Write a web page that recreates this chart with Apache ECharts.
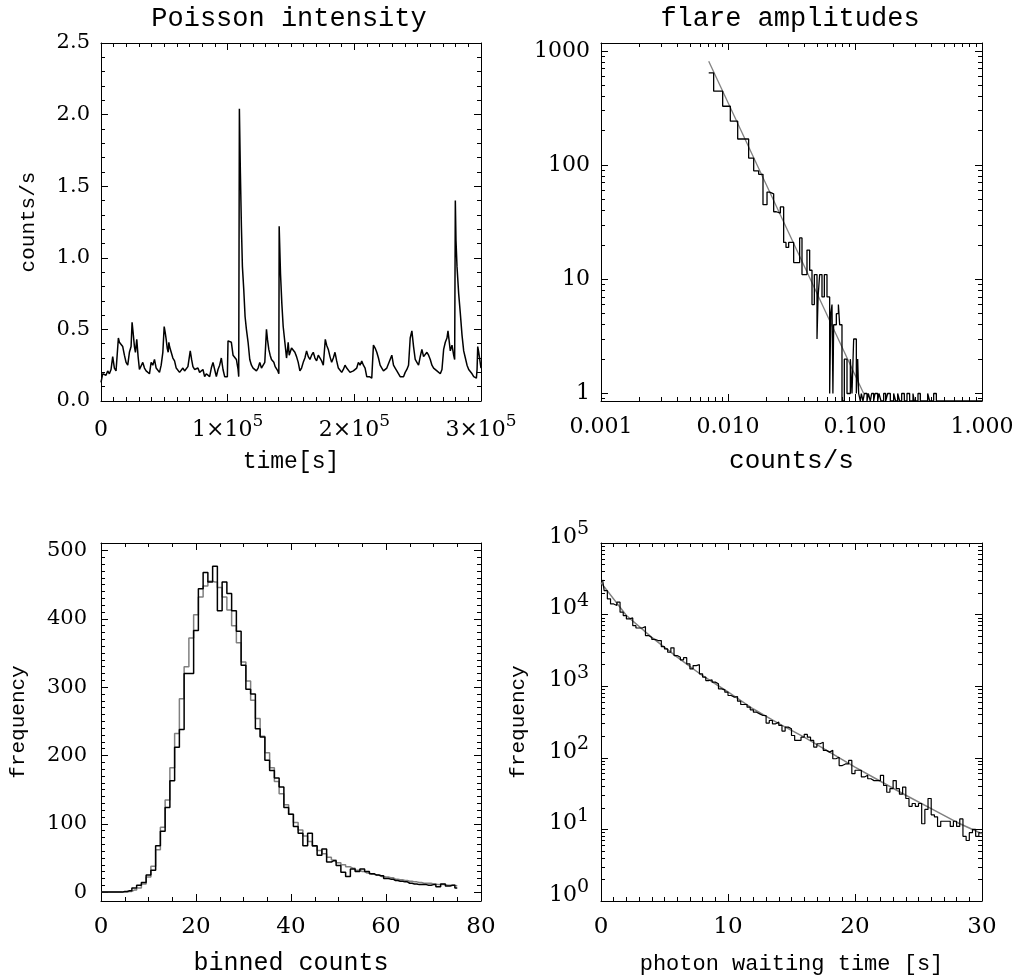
<!DOCTYPE html>
<html><head><meta charset="utf-8">
<script src="https://cdn.jsdelivr.net/npm/echarts@6/dist/echarts.min.js"></script>
<style>html,body{margin:0;padding:0;background:#fff}#c{width:1020px;height:980px}</style>
</head><body><div id="c"></div>
<script>
// ---------------- DATA ----------------
// Panel 1: Poisson intensity light curve
const timeSec = [0,1320,2640,3960,5280,6600,7920,9240,10560,11880,13200,13720,14510,15830,17150,18470,19790,21110,22430,23750,24540,25330,26390,27180,28240,29290,30350,31670,32990,34310,35630,36950,38270,39580,40900,42220,43540,44860,46180,47500,48820,49880,50670,51460,52250,53040,53570,54100,55420,56740,58060,59380,60700,62020,63340,64660,65980,67290,68610,70460,71520,72570,73890,75210,76530,77850,79170,80490,81810,83130,84450,85770,87090,88410,89730,91050,92370,93680,95000,96320,97640,98960,99750,100280,101600,102920,104240,105560,106880,108200,108730,109250,110050,110840,111630,112690,113740,114800,116120,117440,118760,120070,121390,122710,124030,125350,126670,127990,129310,130630,131420,132480,133530,134590,135640,136440,137490,138550,139600,140390,140660,141710,142770,143830,145150,146460,147260,147780,148580,149100,150420,151740,153060,154380,155700,157020,158340,159660,160980,162300,163620,164940,166260,167580,168900,170220,171540,172850,174170,175490,176290,177080,178130,179450,180770,182090,183410,184730,186050,187370,188690,190010,191330,192650,193970,195290,196610,197930,199240,200560,201880,203200,204520,205840,207160,208480,209800,211910,213760,214550,215080,216400,217720,219040,220360,221680,223000,224320,225630,226950,228270,229590,230910,232230,233550,234870,236190,237510,238830,240150,241470,242790,244110,245430,246750,248070,249390,250710,252020,253340,254660,255980,257300,258620,259940,261260,262580,263900,265220,266540,267860,269180,270500,271820,273140,273930,274980,275780,277100,278410,279210,279730,280260,281050,282370,283690,285010,286330,287650,288970,290290,291610,292930,294250,295570,296360,296890,297420,298210,299000,300000];
const rateCps = [0.13,0.19,0.20,0.18,0.21,0.19,0.22,0.31,0.23,0.21,0.22,0.44,0.41,0.42,0.38,0.32,0.27,0.25,0.34,0.38,0.55,0.48,0.38,0.34,0.43,0.31,0.22,0.23,0.27,0.23,0.21,0.22,0.19,0.27,0.25,0.29,0.23,0.22,0.20,0.25,0.34,0.52,0.48,0.43,0.37,0.34,0.41,0.38,0.34,0.30,0.28,0.23,0.22,0.20,0.21,0.23,0.21,0.20,0.24,0.35,0.29,0.24,0.22,0.21,0.23,0.20,0.20,0.22,0.17,0.19,0.20,0.17,0.23,0.27,0.22,0.17,0.22,0.25,0.30,0.22,0.17,0.16,0.17,0.42,0.41,0.41,0.32,0.31,0.29,0.22,0.17,2.04,1.59,1.22,0.94,0.78,0.59,0.50,0.41,0.29,0.25,0.23,0.22,0.21,0.23,0.27,0.23,0.22,0.27,0.50,0.43,0.36,0.32,0.29,0.28,0.27,0.24,0.23,0.21,0.19,1.22,0.89,0.68,0.52,0.41,0.30,0.36,0.41,0.32,0.31,0.37,0.38,0.34,0.31,0.27,0.21,0.23,0.27,0.30,0.35,0.31,0.29,0.32,0.34,0.30,0.28,0.32,0.31,0.28,0.25,0.34,0.43,0.39,0.36,0.31,0.27,0.30,0.34,0.28,0.23,0.22,0.20,0.22,0.25,0.23,0.22,0.20,0.19,0.21,0.20,0.23,0.27,0.25,0.28,0.25,0.23,0.17,0.17,0.16,0.17,0.39,0.37,0.34,0.30,0.25,0.23,0.21,0.22,0.23,0.24,0.29,0.32,0.25,0.23,0.21,0.20,0.17,0.16,0.17,0.20,0.22,0.25,0.44,0.49,0.38,0.29,0.27,0.25,0.31,0.36,0.31,0.30,0.34,0.32,0.29,0.25,0.23,0.22,0.21,0.20,0.19,0.22,0.36,0.41,0.44,0.49,0.41,0.35,0.39,0.32,0.29,1.40,1.12,0.94,0.75,0.61,0.46,0.35,0.30,0.25,0.22,0.21,0.19,0.17,0.16,0.16,0.22,0.38,0.34,0.29,0.23];

// Panel 2: flare amplitude histogram (bin left edges, last entry = final right edge)
const ampEdges = [0.00705,0.00771,0.00908,0.01043,0.01192,0.01454,0.01593,0.01744,0.01886,0.02029,0.02129,0.02289,0.02402,0.02583,0.02743,0.02862,0.03003,0.03289,0.03666,0.03825,0.04188,0.04395,0.04586,0.04785,0.05021,0.05120,0.05269,0.05497,0.05735,0.06018,0.06317,0.06450,0.06590,0.06700,0.06792,0.07129,0.07400,0.07572,0.07898,0.08241,0.08650,0.09190,0.09471,0.09761,0.10245,0.10500,0.10688,0.11015,0.11217,0.11561,0.11844,0.12432,0.12735,0.13203,0.13526,0.14028,0.14371,0.15082,0.15451,0.16020,0.16814,0.17437,0.18078,0.18972,0.20155,0.20897,0.21677,0.22473,0.23306,0.24458,0.25663,0.26932,0.28613,0.29313,0.31332,0.32683,0.37346,0.38720,0.41639,0.43704,1.0];
const ampCounts = [641,443,327,242,169,115,89,83,45,58,56,39,38,43,21,19,21,14,23,11,18,12,6,11,3,7,11,7,11,7,1,5,6,1,4,5,6,4,0,2,1,2,1,3,1,2,1,0,1,0,1,0,1,0,1,0,1,0,1,0,1,0,1,0,1,0,1,0,1,0,1,0,1,0,1,0,1,0,1,0];
const ampFitX = [0.00705, 0.117];
const ampFitY = [811, 1];

// Panel 3: binned counts histogram
const cntBins = [0,1,2,3,4,5,6,7,8,9,10,11,12,13,14,15,16,17,18,19,20,21,22,23,24,25,26,27,28,29,30,31,32,33,34,35,36,37,38,39,40,41,42,43,44,45,46,47,48,49,50,51,52,53,54,55,56,57,58,59,60,61,62,63,64,65,66,67,68,69,70,71,72,73,74,75];
const cntObserved = [0,0,0,0,0,1,2,6,10,14,25,32,68,89,124,163,212,238,320,320,383,444,468,454,477,412,454,437,412,382,332,297,290,239,227,193,178,167,154,124,114,96,86,68,86,68,54,63,44,46,39,29,23,34,30,34,30,27,25,24,20,19,17,16,15,13,12,11,11,10,11,8,12,9,10,6];
const cntModel = [0,0,0,0,0,0,1,3,6,12,22,38,62,95,135,182,232,283,330,372,406,432,448,455,454,446,432,413,390,365,337,309,281,254,228,204,182,162,144,128,114,102,91,82,74,67,61,56,51,47,43,40,37,35,32,30,28,26,25,23,22,21,19,18,17,16,15,14,13,13,12,11,11,10,10,9];

// Panel 4: photon waiting time histogram (bin width 0.25 s)
const waitBinWidth = 0.25;
const waitCounts = [30500,21600,16600,14100,13400,14900,10800,9700,8700,9000,
 7000,6500,6500,6800,5100,4800,4500,4340,4340,3570,
 3320,2980,3430,2680,2540,2330,2500,2050,1750,1940,
 2000,1490,1340,1200,1225,1140,1080,918,889,825,
 741,703,718,618,555,555,509,468,434,411,
 390,390,305,332,298,315,283,236,268,254,
 205,175,175,194,212,194,175,141,157,165,
 127,120,127,97,102,78,82,82,92,60,
 67,67,54,57,51,48,48,48,57,41,
 33,37,48,37,31,39,27,21,23,21,
 23,12,19,27,16,15,11,13,13,13,
 11,13,11,14,8,7,9,10,8,9];
const waitModelT = [0,2,4,6,8,10,12,14,16,18,20,22,24,26,28,30];
const waitModelN = [28000,9700,4800,2540,1400,830,480,300,194,120,74,47,30,19.5,12.6,8.7];

// Tick values and labels
const p1XTicks = [0,100000,200000,300000];
const p1XLabels = ['0','1×10^5','2×10^5','3×10^5'];
const p1YTicks = [0,0.5,1,1.5,2,2.5];
const p1YLabels = ['0.0','0.5','1.0','1.5','2.0','2.5'];
const p2XTicks = [0.001,0.01,0.1,1];
const p2XLabels = ['0.001','0.010','0.100','1.000'];
const p2YTicks = [1,10,100,1000];
const p2YLabels = ['1','10','100','1000'];
const p3XTicks = [0,20,40,60,80];
const p3XLabels = ['0','20','40','60','80'];
const p3YTicks = [0,100,200,300,400,500];
const p3YLabels = ['0','100','200','300','400','500'];
const p4XTicks = [0,10,20,30];
const p4XLabels = ['0','10','20','30'];
const p4YTicks = [1,10,100,1000,10000,100000];
const p4YLabels = ['10^0','10^1','10^2','10^3','10^4','10^5'];

// ---------------- BUILD ----------------
const MONO = "'Liberation Mono','DejaVu Sans Mono',monospace";
const SERIF = "'DejaVu Serif','Liberation Serif',serif";
const BLACK = '#000000', GRAY = '#808080';

function linMinor(a, b, step, majors) {
  const out = [];
  const n = Math.round((b - a) / step);
  for (let i = 0; i <= n; i++) {
    const v = +(a + i * step).toFixed(6);
    if (!majors.some(m => Math.abs(m - v) < step * 1e-3)) out.push(v);
  }
  return out;
}
function logMinor(decades, lo, hi) {
  const out = [];
  decades.forEach(d => { for (let k = 2; k <= 9; k++) { const v = +(k * d).toPrecision(6); if (v >= lo && v <= hi) out.push(v); } });
  return out;
}
function fmtRich(s) {
  const p = s.split('^');
  return p.length > 1 ? '{b|' + p[0] + '}{s|' + p[1] + '}' : '{b|' + s + '}';
}
function pickLabel(val, ticks, labels, isLog) {
  let best = 0, bd = Infinity;
  ticks.forEach((t, i) => {
    const d = isLog ? Math.abs(Math.log10(val) - Math.log10(t)) : Math.abs(val - t);
    if (d < bd) { bd = d; best = i; }
  });
  return labels[best];
}
const xAxes = [], yAxes = [];
function addAxisSet(list, dim, g, c) {
  const isX = dim === 'x';
  const pos = isX ? ['bottom', 'top'] : ['left', 'right'];
  const base = { type: c.type, gridIndex: g, min: c.min, max: c.max, scale: true,
    splitLine: { show: false }, splitArea: { show: false }, minorTick: { show: false }, minorSplitLine: { show: false }, silent: true };
  if (c.type === 'log') base.logBase = 10;
  const idx = list.length;
  const ts = { color: BLACK, width: 1 };
  const lab = c.label;
  const richStyles = {
    b: { fontFamily: SERIF, fontSize: lab.fontSize, lineHeight: 34, color: BLACK },
    s: { fontFamily: SERIF, fontSize: lab.supSize || 17, lineHeight: 12, verticalAlign: 'top', color: BLACK }
  };
  list.push(Object.assign({}, base, {
    position: pos[0],
    axisLine: { show: true, onZero: false, lineStyle: { color: BLACK, width: 1 } },
    axisTick: { show: true, inside: true, length: 7, customValues: c.major, lineStyle: ts },
    axisLabel: Object.assign({
      show: true, customValues: c.major, margin: lab.margin, color: BLACK,
      fontFamily: SERIF, fontSize: lab.fontSize, hideOverlap: false,
      formatter: v => { const s = pickLabel(v, c.major, c.labels, c.type === 'log'); return c.rich ? fmtRich(s) : s; }
    }, c.rich ? { rich: richStyles } : {}, lab.padding ? { padding: lab.padding } : {}),
    name: c.name || '', nameLocation: 'middle', nameGap: c.nameGap || 0, nameMoveOverlap: false,
    nameTextStyle: { fontFamily: MONO, fontSize: c.nameSize || 22, color: BLACK }
  }));
  list.push(Object.assign({}, base, {
    position: pos[0],
    axisLine: { show: false, onZero: false },
    axisTick: { show: true, inside: true, length: 4, customValues: c.minor, lineStyle: ts },
    axisLabel: { show: false }
  }));
  list.push(Object.assign({}, base, {
    position: pos[1],
    axisLine: { show: true, onZero: false, lineStyle: { color: BLACK, width: 1 } },
    axisTick: { show: true, inside: true, length: 7, customValues: c.major, lineStyle: ts },
    axisLabel: { show: false }
  }));
  list.push(Object.assign({}, base, {
    position: pos[1],
    axisLine: { show: false, onZero: false },
    axisTick: { show: true, inside: true, length: 4, customValues: c.minor, lineStyle: ts },
    axisLabel: { show: false }
  }));
  return idx;
}

const grids = [
  { left: 101, top: 43, width: 380, height: 358 },
  { left: 601, top: 43, width: 381, height: 358 },
  { left: 101, top: 543, width: 380, height: 358 },
  { left: 601, top: 543, width: 381, height: 358 }
].map(g => Object.assign(g, { containLabel: false, outerBoundsMode: 'none', show: false }));

const P2YMIN = 0.86, P2YMAX = 1170;
const P3YMIN = -13, P3YMAX = 511;

// Panel 1 axes
const x0 = addAxisSet(xAxes, 'x', 0, { type: 'value', min: 0, max: 300000, major: p1XTicks, labels: p1XLabels, rich: true,
  minor: linMinor(0, 300000, 10000, p1XTicks), label: { fontSize: 22, supSize: 17, margin: 12 }, name: 'time[s]', nameGap: 49, nameSize: 23 });
const y0 = addAxisSet(yAxes, 'y', 0, { type: 'value', min: 0, max: 2.5, major: p1YTicks, labels: p1YLabels,
  minor: linMinor(0, 2.5, 0.1, p1YTicks), label: { fontSize: 21, margin: 11 }, name: 'counts/s', nameGap: 62, nameSize: 21 });
// Panel 2 axes
const x1 = addAxisSet(xAxes, 'x', 1, { type: 'log', min: 0.001, max: 1, major: p2XTicks, labels: p2XLabels,
  minor: logMinor([0.001, 0.01, 0.1], 0.001, 1), label: { fontSize: 22, margin: 15 }, name: 'counts/s', nameGap: 47, nameSize: 26 });
const y1 = addAxisSet(yAxes, 'y', 1, { type: 'log', min: P2YMIN, max: P2YMAX, major: p2YTicks, labels: p2YLabels,
  minor: logMinor([0.1, 1, 10, 100], P2YMIN, P2YMAX), label: { fontSize: 22, margin: 11 } });
// Panel 3 axes
const x2 = addAxisSet(xAxes, 'x', 2, { type: 'value', min: 0, max: 80, major: p3XTicks, labels: p3XLabels,
  minor: linMinor(0, 80, 5, p3XTicks), label: { fontSize: 23, margin: 15 }, name: 'binned counts', nameGap: 50, nameSize: 25 });
const y2 = addAxisSet(yAxes, 'y', 2, { type: 'value', min: P3YMIN, max: P3YMAX, major: p3YTicks, labels: p3YLabels,
  minor: linMinor(0, 510, 10, p3YTicks), label: { fontSize: 21, margin: 14 }, name: 'frequency', nameGap: 72, nameSize: 21 });
// Panel 4 axes
const x3 = addAxisSet(xAxes, 'x', 3, { type: 'value', min: 0, max: 30, major: p4XTicks, labels: p4XLabels,
  minor: linMinor(0, 30, 1, p4XTicks), label: { fontSize: 23, margin: 15 }, name: 'photon waiting time [s]', nameGap: 52, nameSize: 22 });
const y3 = addAxisSet(yAxes, 'y', 3, { type: 'log', min: 1, max: 100000, major: p4YTicks, labels: p4YLabels, rich: true,
  minor: logMinor([1, 10, 100, 1000, 10000], 1, 100000), label: { fontSize: 22, supSize: 19, margin: 12, padding: [0, 0, 12, 0] }, name: 'frequency', nameGap: 72, nameSize: 21 });

// Series data tables
const lightData = timeSec.map((t, i) => [t, rateCps[i]]);
const ampData = ampCounts.map((c, i) => [ampEdges[i], c > 0 ? c : P2YMIN]);
ampData.push([ampEdges[ampEdges.length - 1], ampCounts[ampCounts.length - 1] > 0 ? ampCounts[ampCounts.length - 1] : P2YMIN]);
const ampFit = ampFitX.map((x, i) => [x, ampFitY[i]]);
const cntObsData = cntBins.map((b, i) => [b, cntObserved[i]]);
const cntModData = cntBins.map((b, i) => [b, cntModel[i]]);
const waitData = waitCounts.map((n, i) => [(i + 0.5) * waitBinWidth, n]);
const waitModel = waitModelT.map((t, i) => [t, waitModelN[i]]);

const lineBase = { type: 'line', showSymbol: false, symbol: 'none', silent: true, animation: false, clip: true };

const option = {
  backgroundColor: '#ffffff',
  animation: false,
  textStyle: { fontFamily: MONO, color: BLACK },
  title: [
    { text: 'Poisson intensity', left: 289, top: 5, textAlign: 'center', padding: 0,
      textStyle: { fontFamily: MONO, fontSize: 27, fontWeight: 'normal', color: BLACK } },
    { text: 'flare amplitudes', left: 790, top: 5, textAlign: 'center', padding: 0,
      textStyle: { fontFamily: MONO, fontSize: 27, fontWeight: 'normal', color: BLACK } }
  ],
  grid: grids,
  xAxis: xAxes,
  yAxis: yAxes,
  series: [
    Object.assign({}, lineBase, { xAxisIndex: x0, yAxisIndex: y0, data: lightData, lineStyle: { color: BLACK, width: 1.5 } }),
    Object.assign({}, lineBase, { xAxisIndex: x1, yAxisIndex: y1, data: ampFit, lineStyle: { color: GRAY, width: 1.3 } }),
    Object.assign({}, lineBase, { xAxisIndex: x1, yAxisIndex: y1, data: ampData, step: 'end', lineStyle: { color: BLACK, width: 1.3 } }),
    Object.assign({}, lineBase, { xAxisIndex: x2, yAxisIndex: y2, data: cntModData, step: 'middle', lineStyle: { color: GRAY, width: 1.5 } }),
    Object.assign({}, lineBase, { xAxisIndex: x2, yAxisIndex: y2, data: cntObsData, step: 'middle', lineStyle: { color: BLACK, width: 1.5 } }),
    Object.assign({}, lineBase, { xAxisIndex: x3, yAxisIndex: y3, data: waitModel, lineStyle: { color: GRAY, width: 1.5 } }),
    Object.assign({}, lineBase, { xAxisIndex: x3, yAxisIndex: y3, data: waitData, step: 'middle', lineStyle: { color: BLACK, width: 1.2 } })
  ]
};
const chart = echarts.init(document.getElementById('c'), null, { renderer: 'canvas', width: 1020, height: 980 });
chart.setOption(option);
</script></body></html>
